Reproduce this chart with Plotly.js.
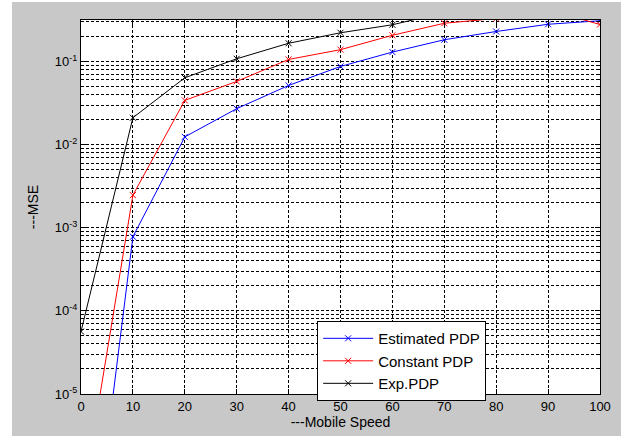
<!DOCTYPE html>
<html>
<head>
<meta charset="utf-8">
<script src="https://cdn.plot.ly/plotly-3.0.1.min.js"></script>
<style>
  html, body { margin: 0; padding: 0; background: #ffffff; }
  #chart { position: absolute; left: 12px; top: 2px; width: 609px; height: 434px; }
</style>
</head>
<body>
<div id="chart"></div>
<script>
// Data
const speed = [0, 10, 20, 30, 40, 50, 60, 70, 80, 90, 100];
const estimatedPDP = [8e-9, 7.8e-4, 0.0124, 0.0271, 0.0516, 0.0873, 0.130, 0.183, 0.230, 0.281, 0.31];
const constantPDP = [4e-7, 0.00247, 0.0341, 0.0577, 0.106, 0.139, 0.207, 0.289, 0.33, 0.42, 0.279];
const expPDP = [5.64e-5, 0.0211, 0.0638, 0.108, 0.166, 0.222, 0.277, 0.39, 0.42, 0.44, 0.45];

const xTicks = [0, 10, 20, 30, 40, 50, 60, 70, 80, 90, 100];
const yTickVals = [1e-5, 1e-4, 1e-3, 1e-2, 1e-1];
const yTickText = ['10<sup>-5</sup>', '10<sup>-4</sup>', '10<sup>-3</sup>', '10<sup>-2</sup>', '10<sup>-1</sup>'];

const font = 'Liberation Sans, Arial, sans-serif';

function series(name, y, color) {
  return {
    x: speed, y: y, name: name, type: 'scatter', mode: 'lines+markers',
    line: { color: color, width: 1 },
    marker: { symbol: 'x-thin-open', size: 6, color: color, line: { color: color, width: 1 } }
  };
}

const data = [
  series('Estimated PDP', estimatedPDP, '#0000ff'),
  series('Constant PDP', constantPDP, '#ff0000'),
  series('Exp.PDP', expPDP, '#000000')
];

const gridDash = '3px,2px';

const layout = {
  width: 609, height: 434,
  margin: { l: 69, r: 21, t: 18, b: 42 },
  paper_bgcolor: '#c8c8c8',
  plot_bgcolor: '#ffffff',
  font: { family: font, size: 13, color: '#000000' },
  showlegend: true,
  legend: {
    x: 0.455, y: 0.195, xanchor: 'left', yanchor: 'top',
    bgcolor: '#ffffff', bordercolor: '#000000', borderwidth: 1,
    font: { family: font, size: 15, color: '#000000' },
    itemwidth: 50, tracegroupgap: 0
  },
  xaxis: {
    range: [0, 100], tickvals: xTicks, ticktext: xTicks.map(String),
    ticks: 'inside', ticklen: 5, tickcolor: '#000000',
    showline: true, linecolor: '#000000', linewidth: 1, mirror: 'ticks',
    showgrid: true, gridcolor: '#000000', gridwidth: 1, griddash: gridDash,
    zeroline: false,
    tickfont: { family: font, size: 13, color: '#000000' },
    title: { text: '---Mobile Speed', font: { family: font, size: 14, color: '#000000' }, standoff: 4 }
  },
  yaxis: {
    type: 'log', range: [-5, -0.5],
    tickvals: yTickVals, ticktext: yTickText,
    ticks: 'inside', ticklen: 5, tickcolor: '#000000',
    showline: true, linecolor: '#000000', linewidth: 1, mirror: 'ticks',
    showgrid: true, gridcolor: '#000000', gridwidth: 1, griddash: gridDash,
    zeroline: false,
    minor: { dtick: 'D1', showgrid: true, gridcolor: '#000000', gridwidth: 1, griddash: gridDash, ticks: 'inside', ticklen: 3, tickcolor: '#000000' },
    tickfont: { family: font, size: 13, color: '#000000' },
    title: { text: '---MSE', font: { family: font, size: 14, color: '#000000' }, standoff: 12 }
  }
};

Plotly.newPlot('chart', data, layout, { displayModeBar: false, staticPlot: true });
</script>
</body>
</html>
